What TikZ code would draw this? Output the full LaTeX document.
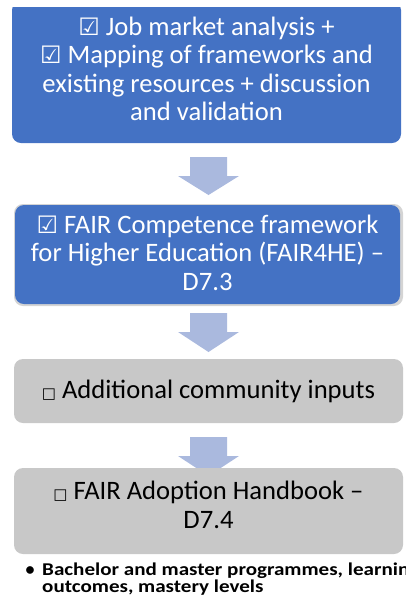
\documentclass[tikz,border=0pt]{standalone}
\usepackage{fontspec}
\setmainfont{Carlito}
\newfontfamily\symf{DejaVu Sans}
\newfontfamily\notefont[FakeStretch=1.17]{Carlito}
\begin{document}
\begin{tikzpicture}[x=1pt,y=-1pt,
  bluebox/.style={fill=boxblue,rounded corners=9pt},
  greybox/.style={fill=boxgrey,rounded corners=9pt},
  boxtext/.style={align=center,font=\fontsize{26.6}{28.5}\selectfont,inner sep=0pt},
  blockarrow/.style={fill=arrowblue}]
\definecolor{boxblue}{HTML}{4472C4}
\definecolor{boxgrey}{HTML}{C8C8C8}
\definecolor{arrowblue}{HTML}{AAB9DE}
\definecolor{shadowgrey}{HTML}{D4D4D4}
\useasboundingbox (0,0) rectangle (405,606);
\clip (0,7) rectangle (405,606);
% box 1
\path[bluebox] (12,1) rectangle (401,143);
\node[boxtext,text=white,anchor=base] (b1) at (206.5,120.5) {{\symf\fontsize{24}{24}\selectfont ☑} Job market analysis +\\{\symf\fontsize{24}{24}\selectfont ☑} Mapping of frameworks and\\existing resources + discussion\\and validation};
% arrow 1
\path[blockarrow] (190,157) -- (227,157) -- (227,176) -- (239,176) -- (208.5,195) -- (178,176) -- (190,176) -- cycle;
% box 2
\path[fill=shadowgrey,rounded corners=9pt] (14,204) rectangle (403,306);
\path[bluebox] (15,205) rectangle (400,304);
\node[boxtext,text=white,anchor=base] (b2) at (207.5,290) {{\symf\fontsize{24}{24}\selectfont ☑} FAIR Competence framework\\for Higher Education (FAIR4HE) --\\D7.3};
% arrow 2
\path[blockarrow] (190,313) -- (227,313) -- (227,332) -- (239,332) -- (208.5,352) -- (178,332) -- (190,332) -- cycle;
% box 3
\path[greybox] (14,359) rectangle (403,423);
\node[boxtext,anchor=base] (b3) at (208.5,398) {{\symf\fontsize{15}{15}\selectfont □} Additional community inputs};
% arrow 3
\path[blockarrow] (190,437) -- (227,437) -- (227,456) -- (239,456) -- (208.5,476) -- (178,456) -- (190,456) -- cycle;
% box 4
\path[greybox] (14,468) rectangle (403,554);
\node[boxtext,anchor=base] (b4) at (208.5,528) {{\symf\fontsize{15}{15}\selectfont □} FAIR Adoption Handbook --\\D7.4};
% bullet text
\node[anchor=base,inner sep=0pt,font=\fontsize{18}{18}\selectfont\bfseries] (bul) at (30,575) {•};
\node[anchor=base west,inner sep=0pt,align=left,font=\fontsize{18}{17.5}\notefont\bfseries] (note) at (42,592.5) {Bachelor and master programmes, learning\\outcomes, mastery levels};
\end{tikzpicture}
\end{document}
